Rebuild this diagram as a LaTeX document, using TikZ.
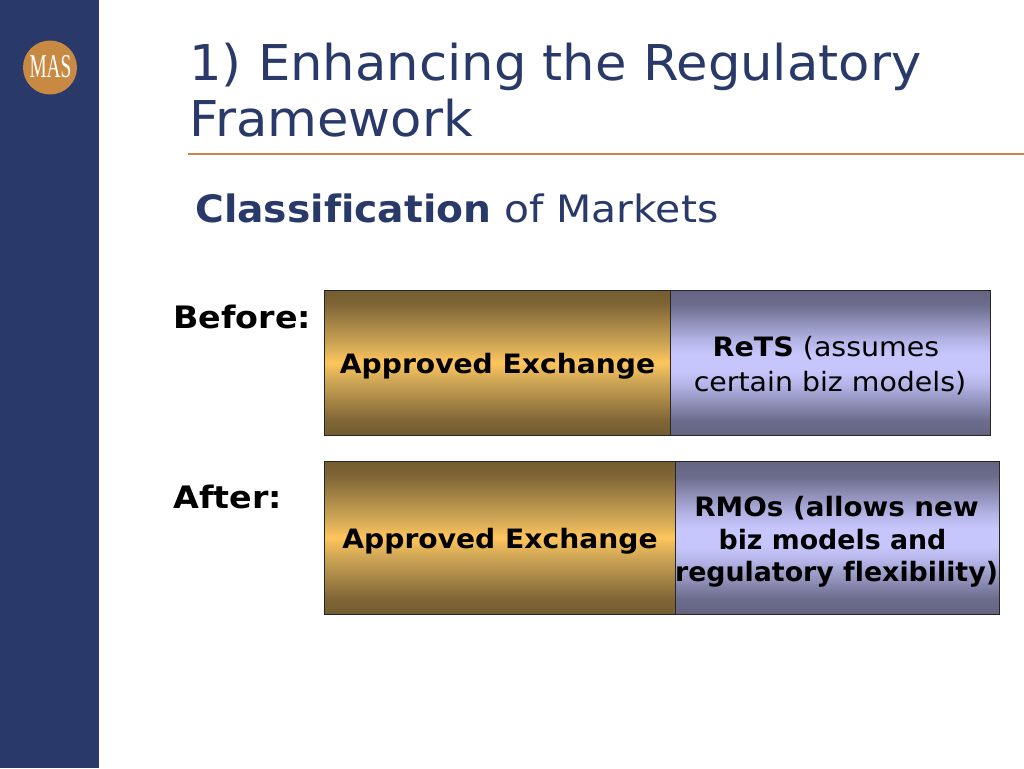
\documentclass[tikz,border=0pt]{standalone}
\usepackage{fontspec}
\setmainfont{DejaVu Sans}[Ligatures=NoCommon]
\newfontfamily\narrowf{Liberation Serif}
\definecolor{navy}{RGB}{40,57,106}
\definecolor{rulec}{RGB}{204,133,77}
\definecolor{logoc}{RGB}{200,137,66}
\definecolor{gA}{RGB}{115,92,48}
\definecolor{gB}{RGB}{128,102,54}
\definecolor{gC}{RGB}{208,167,86}
\definecolor{gD}{RGB}{254,197,92}
\definecolor{bA}{RGB}{100,100,130}
\definecolor{bB}{RGB}{108,108,140}
\definecolor{bC}{RGB}{178,178,228}
\definecolor{bD}{RGB}{198,198,252}
\pgfdeclareverticalshading{goldsh}{100bp}{color(0bp)=(gA); color(25bp)=(gA); color(30bp)=(gB); color(44bp)=(gC); color(50bp)=(gD); color(56bp)=(gC); color(70bp)=(gB); color(75bp)=(gA); color(100bp)=(gA)}
\pgfdeclareverticalshading{bluesh}{100bp}{color(0bp)=(bA); color(25bp)=(bA); color(30bp)=(bB); color(42bp)=(bC); color(47bp)=(bD); color(53bp)=(bD); color(58bp)=(bC); color(70bp)=(bB); color(75bp)=(bA); color(100bp)=(bA)}
\tikzset{
 px/.style={x=0.75pt,y=-0.75pt},
 gold/.style={draw=black!85,line width=0.7pt,shading=goldsh},
 blue/.style={draw=black!85,line width=0.7pt,shading=bluesh},
 lab/.style={font=\fontsize{23.2}{27}\selectfont\bfseries,text=black,inner sep=0pt,anchor=base west},
 boxt/.style={font=\fontsize{20}{24.75}\selectfont,text=black,inner sep=0pt,anchor=base,align=center},
 boxb/.style={boxt,font=\fontsize{20}{24}\selectfont\bfseries},
 titl/.style={font=\fontsize{37}{42}\selectfont,text=navy,inner sep=0pt,anchor=base west}
}
\begin{document}
\begin{tikzpicture}[px]
\useasboundingbox (0,0) rectangle (1024,768);
\fill[white] (0,0) rectangle (1024,768);
\fill[navy] (0,0) rectangle (99,768);
\node[circle,fill=logoc,minimum size=40.5pt,inner sep=0pt] (logo) at (50,67.5) {};
\node[font=\narrowf\fontsize{25}{25}\selectfont,text=white,inner sep=0pt] (mas) at (50.5,67) {\scalebox{0.58}[1]{MAS}};
\node[titl] (t1) at (189,80) {\scalebox{1.038}[1]{1) Enhancing the Regulatory}};
\node[titl] (t2) at (189,136) {\scalebox{1.038}[1]{Framework}};
\draw[rulec,line width=1.5pt] (188,154) -- (1024,154);
\node[font=\fontsize{28.3}{32}\selectfont,text=navy,inner sep=0pt,anchor=base west] (sub) at (195,222) {\scalebox{1.039}[1]{\textbf{Classification}}\scalebox{1.083}[1]{ of Markets}};
\node[lab] (before) at (173,328) {\scalebox{1.077}[1]{Before:}};
\node[lab] (after) at (173,508) {\scalebox{1.077}[1]{After:}};
\path[gold] (324,290) rectangle (670,435);
\path[blue] (670,290) rectangle (990,435);
\path[gold] (324,461) rectangle (675,614);
\path[blue] (675,461) rectangle (999,614);
\node[boxb] (ae1) at (497.5,373) {\scalebox{1.056}[1]{Approved Exchange}};
\node[boxb] (ae2) at (500,548) {\scalebox{1.056}[1]{Approved Exchange}};
\node[boxt] (r1) at (826,356) {\scalebox{1.068}[1]{\textbf{ReTS} (assumes}};
\node[boxt] (r2) at (830,391) {\scalebox{1.065}[1]{certain biz models)}};
\node[boxb] (m1) at (836.5,516) {\scalebox{1.041}[1]{RMOs (allows new}};
\node[boxb] (m2) at (832.5,549) {\scalebox{1.005}[1]{biz models and}};
\node[boxb] (m3) at (836.5,581) {\scalebox{1.005}[1]{regulatory flexibility)}};
\end{tikzpicture}
\end{document}
